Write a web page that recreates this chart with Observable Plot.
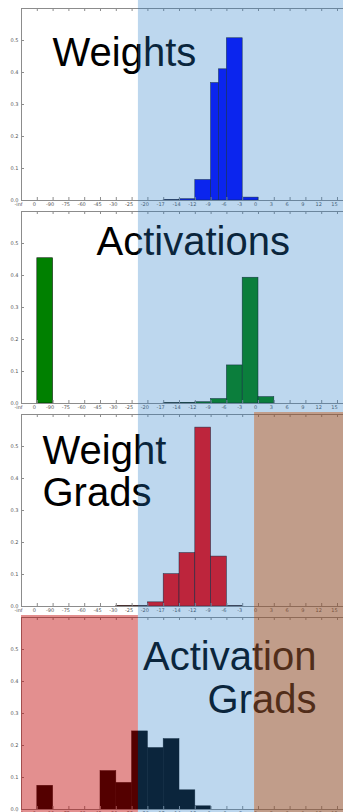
<!DOCTYPE html>
<html><head><meta charset="utf-8">
<script src="https://cdn.jsdelivr.net/npm/d3@7"></script>
<script src="https://cdn.jsdelivr.net/npm/@observablehq/plot@0.6"></script>
<style>
html,body{margin:0;padding:0;background:#fff;width:343px;height:812px;overflow:hidden;}
#chart svg{display:block;overflow:visible;background:transparent;}
</style></head><body><div id="chart"></div>
<script>
// bin-edge tick labels (log2 magnitude bins)
const binLabels = ["-inf","0","-90","-75","-60","-45","-30","-25","-20","-17","-14","-12","-9","-6","-3","0","3","6","9","12","15"];
const yTicks = [0, 0.1, 0.2, 0.3, 0.4, 0.5];
const yMax = 0.6;
const xMax = 20.38;

const panelTitles = ["Weights", "Activations", "Weight\nGrads", "Activation\nGrads"];
const barColors = ["#0000ff", "#008000", "#ff0000", "#000000"];

// [bin start edge, bin end edge, fraction of values]
const weightsHist = [[9,10,0.001],[10,11,0.004],[11,12,0.064],[12,12.5,0.367],[12.5,13,0.41],[13,14,0.507],[14,15,0.009]];
const activationsHist = [[1,2,0.454],[9,10,0.001],[10,11,0.002],[11,12,0.004],[12,13,0.014],[13,14,0.119],[14,15,0.393],[15,16,0.02]];
const weightGradsHist = [[6,7,0.001],[7,8,0.001],[8,9,0.013],[9,10,0.101],[10,11,0.167],[11,12,0.559],[12,13,0.156],[13,14,0.001]];
const activationGradsHist = [[1,2,0.074],[5,6,0.12],[6,7,0.083],[7,8,0.244],[8,9,0.192],[9,10,0.22],[10,11,0.06],[11,12,0.01]];
const hists = [weightsHist, activationsHist, weightGradsHist, activationGradsHist];

// representable-range zones, in bin-edge units
const fp16Start = 7.4;
const fp16End = 14.75;
// [panel, x1, x2, yLow, yHigh, kind]  (y in fraction units; panel spans -0.009375..0.625)
const zones = [
  [0, fp16Start, xMax, -0.009375, 0.625, "fp16"],
  [1, fp16Start, xMax, -0.009375, 0.625, "fp16"],
  [2, fp16Start, fp16End, -0.009375, 0.625, "fp16"],
  [2, fp16End, xMax, 0.60625, 0.625, "fp16"],
  [2, fp16End, xMax, -0.009375, 0.60625, "overflow"],
  [3, 0, fp16Start, -0.009375, 0.60625, "underflow"],
  [3, fp16Start, fp16End, -0.009375, 0.625, "fp16"],
  [3, fp16End, xMax, -0.009375, 0.625, "overflow"]
];
const zoneFill = {fp16: "rgb(35,122,198)", overflow: "rgb(145,80,46)", underflow: "rgb(191,0,0)"};
const zoneOpacity = {fp16: 0.3, overflow: 0.56, underflow: 0.44};

const titleDx = [31, 75, 21, 295];
const titleDy = [57, 43, 91, 95];
const titleAnchor = ["start", "start", "start", "end"];
const titleLineHeight = [1, 1, 1.05, 1.075];

const H = 203, MT = 8, MB = 3, ML = 21;
const tickY = 3 * yMax / (H - MT - MB);
const tickX = 3 * xMax / (343 - ML);
const spine = "#8c8c8c";

function panel(i) {
  const data = hists[i].map(([x1, x2, v]) => ({x1, x2, v}));
  const zoneMarks = ["underflow", "fp16", "overflow"].map(kind =>
    Plot.rect(zones.filter(z => z[0] === i && z[5] === kind).map(z => ({x1: z[1], x2: z[2], y1: z[3], y2: z[4]})),
      {x1: "x1", x2: "x2", y1: "y1", y2: "y2", fill: zoneFill[kind], fillOpacity: zoneOpacity[kind]}));
  return Plot.plot({
    width: 343, height: H, marginLeft: ML, marginRight: 0, marginTop: MT, marginBottom: MB,
    x: {domain: [0, xMax]},
    y: {domain: [0, yMax]},
    style: {background: "transparent", overflow: "visible", fontFamily: "DejaVu Sans, sans-serif"},
    marks: [
      Plot.rect(data, {x1: "x1", x2: "x2", y1: 0, y2: "v", fill: barColors[i], stroke: "#000", strokeWidth: 0.6, strokeOpacity: 0.8}),
      Plot.ruleY([0, yMax], {stroke: spine}),
      Plot.ruleX([0], {stroke: spine}),
      Plot.ruleX(d3.range(1, binLabels.length), {y1: 0, y2: tickY, stroke: spine}),
      Plot.ruleX(d3.range(1, binLabels.length), {y1: yMax - tickY, y2: yMax, stroke: spine}),
      Plot.ruleY(yTicks.slice(1), {x1: 0, x2: tickX, stroke: spine}),
      Plot.axisX({ticks: d3.range(binLabels.length), tickFormat: d => binLabels[d], tickSize: 0, tickPadding: 1.5, fontSize: 5, fill: "#555", dx: -3, label: null}),
      Plot.axisY({ticks: yTicks, tickFormat: d3.format(".1f"), tickSize: 0, tickPadding: 3, fontSize: 5, fill: "#555", label: null}),
      Plot.text([panelTitles[i]], {text: d => d, frameAnchor: "top-left", dx: titleDx[i], dy: titleDy[i],
        textAnchor: titleAnchor[i], lineAnchor: "bottom", lineHeight: titleLineHeight[i],
        fontSize: 40, fontFamily: "Liberation Sans, Arial, sans-serif", fill: "#000"}),
      ...zoneMarks
    ]
  });
}

const root = document.getElementById("chart");
for (let i = 0; i < 4; i++) root.appendChild(panel(i));
</script></body></html>
